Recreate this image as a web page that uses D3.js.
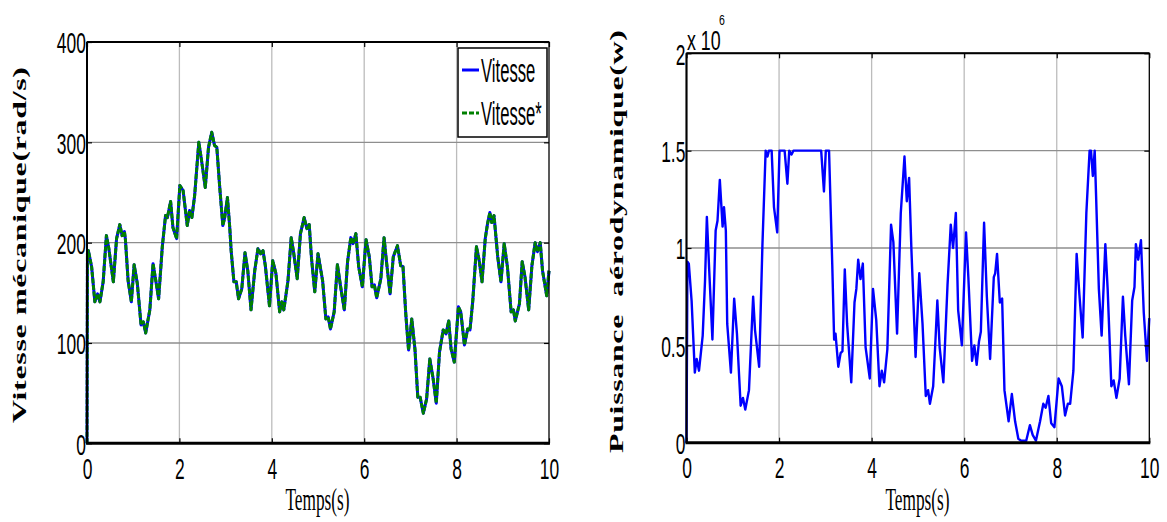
<!DOCTYPE html>
<html><head><meta charset="utf-8">
<script src="https://cdn.jsdelivr.net/npm/d3@7"></script>
<style>body{margin:0;background:#fff}svg{display:block}</style>
</head><body>
<svg id="c" width="1167" height="522"></svg>
<script>
// ---- Data ----
const speedTime = [0,0.01,0.03,0.1,0.17,0.23,0.28,0.35,0.42,0.47,0.57,0.64,0.71,0.76,0.81,0.83,0.89,0.96,1.02,1.09,1.17,1.22,1.27,1.36,1.43,1.5,1.55,1.63,1.7,1.74,1.81,1.86,1.94,2.01,2.08,2.17,2.22,2.27,2.33,2.42,2.47,2.56,2.63,2.7,2.76,2.81,2.87,2.94,2.98,3.04,3.09,3.12,3.18,3.23,3.28,3.35,3.42,3.48,3.55,3.63,3.7,3.76,3.81,3.86,3.95,4.02,4.09,4.17,4.22,4.26,4.35,4.42,4.47,4.55,4.62,4.7,4.76,4.81,4.86,4.93,5.0,5.1,5.17,5.22,5.27,5.35,5.42,5.49,5.57,5.64,5.71,5.76,5.82,5.88,5.96,6.04,6.11,6.17,6.22,6.27,6.36,6.43,6.48,6.56,6.63,6.72,6.79,6.84,6.9,6.96,7.03,7.1,7.16,7.21,7.28,7.35,7.42,7.49,7.56,7.63,7.71,7.77,7.83,7.88,7.95,8.04,8.09,8.17,8.24,8.29,8.35,8.43,8.49,8.55,8.62,8.67,8.72,8.76,8.81,8.89,8.96,9.03,9.1,9.18,9.23,9.27,9.36,9.42,9.48,9.56,9.63,9.7,9.75,9.81,9.86,9.95,10];
const speedValues = [0,190,192,176,141,149,141,161,207,195,161,204,218,207,211,204,162,141,178,159,118,121,110,133,179,159,144,196,227,225,241,215,204,257,252,217,232,225,247,300,285,255,295,310,297,295,257,217,225,245,215,192,161,161,144,154,190,172,133,172,194,189,192,177,137,182,169,131,141,133,162,205,191,164,209,225,214,218,184,151,189,162,124,126,114,131,178,156,133,181,205,199,209,176,156,203,186,156,158,145,164,205,182,149,186,197,177,176,129,93,124,93,46,46,30,44,84,65,40,91,113,109,122,94,81,136,131,98,114,113,142,196,182,161,204,219,230,220,227,186,161,199,176,131,133,122,139,181,166,133,177,200,191,200,172,147,172];
const speedRefValues = [0,190,192,176,141,149,141,161,207,195,161,204,218,207,211,204,162,141,178,159,118,121,110,133,179,159,144,196,227,225,241,215,204,257,252,217,232,225,247,300,285,255,295,310,297,295,257,217,225,245,215,192,161,161,144,154,190,172,133,172,194,189,192,177,137,182,169,131,141,133,162,205,191,164,209,225,214,218,184,151,189,162,124,126,114,131,178,156,133,181,205,199,209,176,156,203,186,156,158,145,164,205,182,149,186,197,177,176,129,93,124,93,46,46,30,44,84,65,40,91,113,109,122,94,81,136,131,98,114,113,142,196,182,161,204,219,230,220,227,186,161,199,176,131,133,122,139,181,166,133,177,200,191,200,172,147,172];
const powerTime = [0,0.02,0.05,0.11,0.18,0.22,0.27,0.35,0.4,0.44,0.49,0.56,0.63,0.67,0.72,0.78,0.81,0.85,0.88,0.96,1.03,1.09,1.17,1.22,1.27,1.35,1.44,1.48,1.57,1.64,1.71,1.75,1.78,1.84,1.89,1.96,2.01,2.12,2.18,2.22,2.27,2.31,2.91,2.97,3.01,3.08,3.15,3.19,3.22,3.28,3.33,3.37,3.42,3.47,3.56,3.63,3.67,3.71,3.76,3.81,3.87,3.96,4.03,4.1,4.17,4.22,4.27,4.34,4.42,4.47,4.55,4.63,4.71,4.76,4.81,4.86,4.95,5.03,5.1,5.17,5.22,5.26,5.33,5.37,5.42,5.47,5.55,5.64,5.71,5.76,5.82,5.87,5.95,6.04,6.09,6.17,6.22,6.27,6.32,6.36,6.43,6.49,6.56,6.64,6.67,6.71,6.77,6.82,6.87,6.96,7.03,7.1,7.17,7.23,7.34,7.42,7.48,7.55,7.64,7.71,7.76,7.82,7.88,7.95,8.04,8.11,8.18,8.24,8.29,8.36,8.43,8.49,8.56,8.64,8.71,8.74,8.78,8.82,8.85,8.91,8.97,9.05,9.1,9.18,9.23,9.29,9.36,9.43,9.48,9.56,9.63,9.68,9.71,9.76,9.82,9.88,9.95,10];
const powerValues = [0,0.93,0.92,0.73,0.36,0.43,0.37,0.55,0.83,1.16,0.89,0.53,1.09,1.14,1.35,1.11,1.21,1.09,0.61,0.36,0.74,0.56,0.19,0.23,0.17,0.27,0.75,0.58,0.39,1.01,1.5,1.47,1.5,1.5,1.21,1.08,1.5,1.5,1.33,1.5,1.48,1.5,1.5,1.29,1.5,1.5,0.91,0.53,0.56,0.39,0.46,0.47,0.89,0.61,0.31,0.72,0.79,0.94,0.84,0.92,0.49,0.33,0.79,0.63,0.29,0.37,0.31,0.48,1.12,1.03,0.56,1.18,1.47,1.24,1.36,0.99,0.44,0.87,0.61,0.24,0.27,0.2,0.29,0.48,0.73,0.49,0.31,0.81,1.12,1.0,1.18,0.68,0.5,1.08,0.85,0.42,0.5,0.4,0.52,0.57,1.13,0.75,0.43,0.85,0.87,0.97,0.72,0.74,0.27,0.11,0.25,0.11,0.02,0.01,0.01,0.09,0.04,0.01,0.11,0.2,0.18,0.24,0.1,0.08,0.33,0.29,0.14,0.2,0.2,0.37,0.97,0.76,0.54,1.18,1.5,1.5,1.37,1.5,1.27,0.79,0.55,1.02,0.79,0.29,0.32,0.23,0.33,0.75,0.55,0.3,0.73,0.8,1.02,0.94,1.04,0.67,0.42,0.64];
const xTicks = [0,2,4,6,8,10];
const speedTicks = [0,100,200,300,400];
const powerTicks = [0,0.5,1,1.5,2];
const powerTickLabels = ["0","0.5","1","1.5","2"];
const legendLabels = ["Vitesse","Vitesse*"];

// ---- Drawing ----
const svg = d3.select("#c");
const SANS = "'Liberation Sans', Arial, sans-serif";
const SERIF = "'Liberation Serif', 'Times New Roman', serif";

function panel(p) {
  const g = svg.append("g");
  const x = d3.scaleLinear().domain([0, 10]).range([p.x0, p.x1]);
  const y = d3.scaleLinear().domain(p.yDom).range([p.y1, p.y0]);

  // grid
  g.selectAll(".vg").data(xTicks.slice(1, -1)).join("line")
    .attr("x1", d => x(d)).attr("x2", d => x(d))
    .attr("y1", p.y0).attr("y2", p.y1)
    .attr("stroke", "#bcbcbc").attr("stroke-width", 1.3);
  g.selectAll(".hg").data(p.yTicks.slice(1, -1)).join("line")
    .attr("x1", p.x0).attr("x2", p.x1)
    .attr("y1", d => y(d)).attr("y2", d => y(d))
    .attr("stroke", "#8e8e8e").attr("stroke-width", 1.4);

  // series
  p.series.forEach(s => {
    const line = d3.line().x((d, i) => x(s.t[i])).y(d => y(d));
    g.append("path").datum(s.v).attr("d", line)
      .attr("fill", "none").attr("stroke", s.color)
      .attr("stroke-width", s.width)
      .attr("stroke-linejoin", "round")
      .attr("stroke-dasharray", s.dash || null);
  });

  // axes (inward ticks)
  const bottom = g.append("g").attr("transform", `translate(0,${p.y1})`)
    .call(d3.axisBottom(x).tickValues(xTicks).tickSize(-5).tickPadding(14));
  const left = g.append("g").attr("transform", `translate(${p.x0},0)`)
    .call(d3.axisLeft(y).tickValues(p.yTicks).tickSize(-5).tickPadding(2)
      .tickFormat((d, i) => p.yLabels[i]));
  const top = g.append("g").attr("transform", `translate(0,${p.y0})`)
    .call(d3.axisTop(x).tickValues(xTicks).tickSize(-5).tickFormat(""));
  const right = g.append("g").attr("transform", `translate(${p.x1},0)`)
    .call(d3.axisRight(y).tickValues(p.yTicks).tickSize(-5).tickFormat(""));
  [bottom, left, top, right].forEach(a => {
    a.select(".domain").remove();
    a.selectAll("line").attr("stroke", "#000").attr("stroke-width", 1.2);
  });
  [bottom, left].forEach(a => {
    a.selectAll("text").attr("fill", "#000")
      .style("font-family", SANS).style("font-size", "30px")
      .attr("transform", "scale(0.58,1)");
  });
  left.selectAll("text").attr("dy", "0.36em");

  // frame
  g.append("rect").attr("x", p.x0).attr("y", p.y0)
    .attr("width", p.x1 - p.x0).attr("height", p.y1 - p.y0)
    .attr("fill", "none").attr("stroke", "#000").attr("stroke-width", 1.3);
  g.append("line").attr("x1", p.x0 - 1).attr("x2", p.x1 + 1).attr("y1", p.y1).attr("y2", p.y1)
    .attr("stroke", "#000").attr("stroke-width", 3);
  g.append("line").attr("x1", p.x0).attr("x2", p.x1).attr("y1", p.y0).attr("y2", p.y0)
    .attr("stroke", "#000").attr("stroke-width", 2);
  g.append("line").attr("x1", p.x0).attr("x2", p.x0).attr("y1", p.y0).attr("y2", p.y1)
    .attr("stroke", "#000").attr("stroke-width", 2);

  // x label
  g.append("text")
    .attr("transform", `translate(${p.xl},510) scale(0.54,1)`)
    .attr("text-anchor", "middle").attr("fill", "#000")
    .style("font-family", SERIF).style("font-size", "32px")
    .text("Temps(s)");

  // y label
  g.append("text")
    .attr("transform", `translate(${p.ylx},${p.yly}) scale(0.6,1) rotate(-90)`)
    .attr("text-anchor", "middle").attr("fill", "#000")
    .style("font-family", SERIF).style("font-size", "32px").style("font-weight", "bold")
    .style("white-space", "pre")
    .attr("textLength", p.ylLen).attr("lengthAdjust", "spacing")
    .text(p.yTitle);
  return { g, x, y };
}

const P1 = panel({
  x0: 87, x1: 549, y0: 42, y1: 443.3, yDom: [0, 400],
  yTicks: speedTicks, yLabels: speedTicks.map(String),
  series: [
    { t: speedTime, v: speedValues, color: "#0000ff", width: 3 },
    { t: speedTime, v: speedRefValues, color: "#008000", width: 3, dash: "5,1.5" }
  ],
  xl: 317.5, ylx: 26, yly: 245, ylLen: 356,
  yTitle: "Vitesse mécanique(rad/s)"
});

const P2 = panel({
  x0: 686.5, x1: 1149.3, y0: 53.3, y1: 442.7, yDom: [0, 2],
  yTicks: powerTicks, yLabels: powerTickLabels,
  series: [
    { t: powerTime, v: powerValues, color: "#0000ff", width: 2.4 }
  ],
  xl: 917.5, ylx: 623, yly: 241.5, ylLen: 423,
  yTitle: "Puissance  aérodynamique(w)"
});

// exponent label
svg.append("text").attr("transform", "translate(687,50) scale(0.66,1)").attr("fill", "#000")
  .style("font-family", SANS).style("font-size", "27px").text("x 10");
svg.append("text").attr("transform", "translate(719,25) scale(0.75,1)").attr("fill", "#000")
  .style("font-family", SANS).style("font-size", "14px").text("6");

// legend
const lg = svg.append("g");
lg.append("rect").attr("x", 458).attr("y", 48).attr("width", 89).attr("height", 89)
  .attr("fill", "#fff").attr("stroke", "#000").attr("stroke-width", 1.5);
const legendStyles = [
  { color: "#0000ff", dash: null, y: 70 },
  { color: "#008000", dash: "5,2", y: 113 }
];
legendLabels.forEach((lab, i) => {
  const s = legendStyles[i];
  lg.append("line").attr("x1", 462).attr("x2", 479).attr("y1", s.y).attr("y2", s.y)
    .attr("stroke", s.color).attr("stroke-width", 3).attr("stroke-dasharray", s.dash);
  lg.append("text").attr("transform", `translate(481,${s.y + 12}) scale(0.49,1)`)
    .attr("fill", "#000")
    .style("font-family", SANS).style("font-size", "34px").text(lab);
});
</script>
</body></html>
